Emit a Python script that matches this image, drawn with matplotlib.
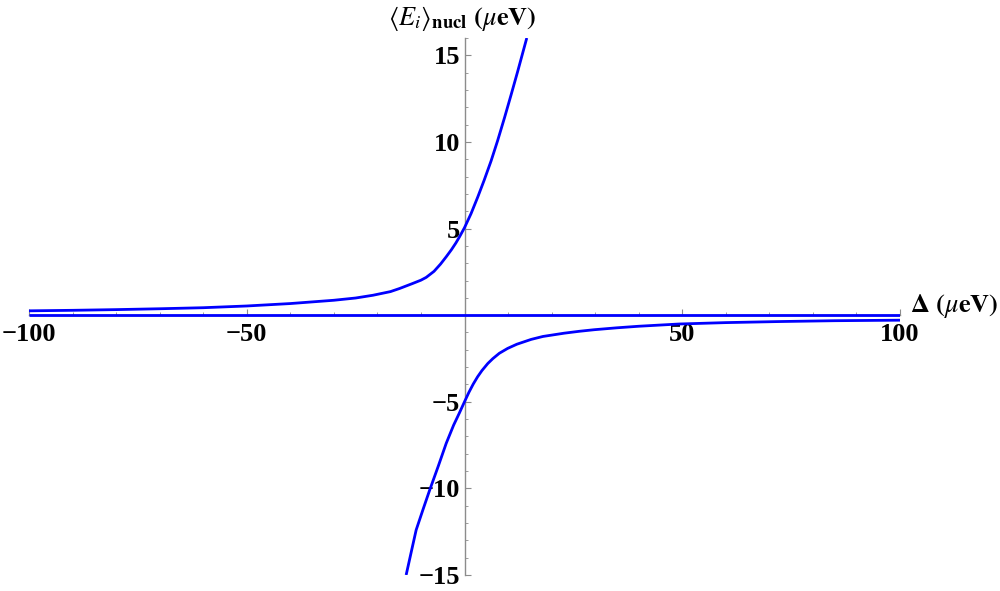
import matplotlib
matplotlib.use("Agg")
import matplotlib.pyplot as plt
from matplotlib.ticker import MultipleLocator, FixedLocator

# values (Delta in ueV, energy in ueV)
upper_delta = [-100, -90, -80, -70, -60, -50, -40, -30, -25, -21, -17, -14.9, -12, -10, -8.8,
               -7, -5.5, -4.2, -3, -2, -1.15, 0, 1.5, 3.06, 4.5, 6.1, 7.6, 9.2, 10.7, 12.2, 14.3]
upper_energy = [0.25, 0.28, 0.32, 0.37, 0.43, 0.53, 0.67, 0.86, 0.99, 1.15, 1.36, 1.54, 1.82,
                2.02, 2.18, 2.53, 2.95, 3.37, 3.78, 4.16, 4.52, 5.05, 5.86, 6.83, 7.78, 8.9,
                10.07, 11.41, 12.72, 14.06, 16.0]

lower_delta = [-13.4, -12.2, -11.1, -9.5, -8, -6, -4.2, -2.5, -1.2, 0, 1, 2, 3, 4, 5.35, 6.5,
               8, 9.9, 12, 15.3, 18, 22.9, 26.4, 29.8, 35, 40, 49.3, 60, 72, 85, 100]
lower_energy = [-15.0, -13.64, -12.4, -11.2, -10.1, -8.7, -7.4, -6.35, -5.66, -5.0, -4.46,
                -3.98, -3.56, -3.2, -2.79, -2.51, -2.2, -1.92, -1.68, -1.40, -1.23, -1.04,
                -0.93, -0.84, -0.73, -0.64, -0.51, -0.43, -0.37, -0.32, -0.29]

flat_delta = [-100, 0, 100]
flat_energy = [0.03, 0.03, 0.03]

xticks = [-100, -50, 50, 100]
yticks = [-15, -10, -5, 5, 10, 15]

plt.rcParams["mathtext.fontset"] = "stix"
plt.rcParams["font.family"] = ["Liberation Serif", "DejaVu Serif"]

fig = plt.figure(figsize=(10, 5.91), dpi=100)
ax = fig.add_axes([0.029, 1 - 575 / 591, 0.871, (575 - 38) / 591])

blue = (0, 0, 1)
line_kw = dict(color=blue, lw=2.0, zorder=5, solid_joinstyle="round", solid_capstyle="butt")
ax.plot(upper_delta, upper_energy, **line_kw)
ax.plot(lower_delta, lower_energy, **line_kw)
ax.plot(flat_delta, flat_energy, **line_kw)

ax.set_xlim(-100, 100)
ax.set_ylim(-15, 16)

axis_grey = (0.55, 0.55, 0.55)
for side in ["top", "right"]:
    ax.spines[side].set_visible(False)
ax.spines["left"].set_position(("data", 0))
ax.spines["bottom"].set_position(("data", 0))
for side in ["left", "bottom"]:
    ax.spines[side].set_color(axis_grey)
    ax.spines[side].set_linewidth(1.0)

ax.xaxis.set_major_locator(FixedLocator(xticks))
ax.xaxis.set_minor_locator(MultipleLocator(10))
ax.yaxis.set_major_locator(FixedLocator(yticks))
ax.yaxis.set_minor_locator(MultipleLocator(1))

ax.tick_params(which="both", direction="in", color=axis_grey)
ax.tick_params(which="major", length=4, width=0.8)
ax.tick_params(which="minor", length=2.5, width=0.6)
ax.tick_params(axis="x", which="major", pad=6)
ax.tick_params(axis="y", which="major", pad=3)

ax.set_xticklabels([f"\u2212{abs(v)}" if v < 0 else str(v) for v in xticks],
                   fontsize=19, fontweight="bold")
ax.set_yticklabels([f"\u2212{abs(v)}" if v < 0 else str(v) for v in yticks],
                   fontsize=19, fontweight="bold")
for lab in ax.get_yticklabels():
    lab.set_zorder(3)

# axis labels, Mathematica style at the ends of the axes
ax.text(1.011, 0.5, r"$\mathbf{\Delta}\ \mathbf{(}\mu\mathbf{eV)}$", transform=ax.transAxes,
        fontsize=19, ha="left", va="center")
fig.text(388 / 1000, 1 - 25 / 591,
         r"$\langle E_i\rangle_{\mathbf{nucl}}\ \mathbf{(}\mu\mathbf{eV)}$",
         fontsize=19, ha="left", va="baseline")

fig.savefig("out.png", dpi=100)
